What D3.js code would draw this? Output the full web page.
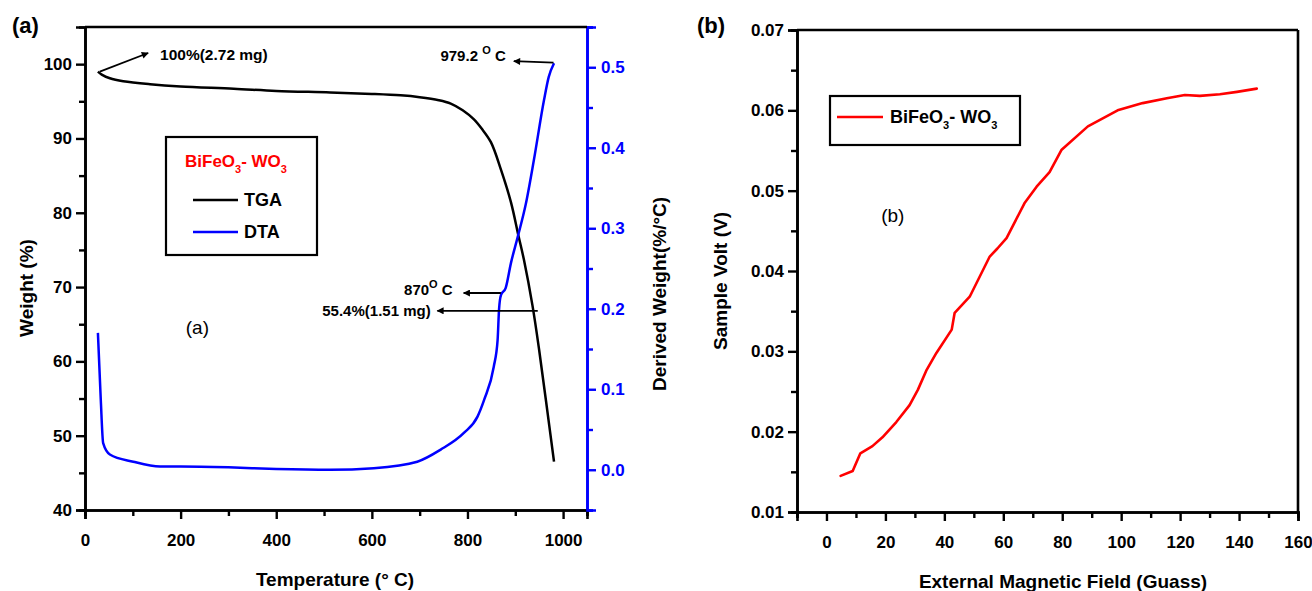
<!DOCTYPE html>
<html>
<head>
<meta charset="utf-8">
<script src="https://cdn.jsdelivr.net/npm/d3@7"></script>
<style>
  body { margin: 0; background: #fff; }
  svg text { font-family: "Liberation Sans", Arial, sans-serif; font-weight: bold; }
</style>
</head>
<body>
<svg id="chart" width="1312" height="591"></svg>
<script>
// panel (a): TGA weight (%) vs temperature
const tgaTemp   = [27, 35, 52, 80, 136, 200, 311, 400, 513, 600, 660, 700, 740, 765, 790, 813, 830, 849, 870, 891, 907, 918, 936, 950, 964, 981];
const tgaWeight = [99.0, 98.6, 98.1, 97.7, 97.3, 97.0, 96.7, 96.4, 96.2, 96.0, 95.8, 95.55, 95.15, 94.7, 93.8, 92.6, 91.3, 89.5, 85.8, 81.4, 76.8, 73.7, 67.5, 61.5, 54.8, 46.5];
// panel (a): DTA derived weight (%/°C)
const dtaTemp  = [27, 33, 38, 52, 101, 157, 200, 300, 400, 513, 604, 695, 744, 793, 821, 835, 855, 863, 866, 870, 880, 891, 905, 922, 939, 960, 970, 981];
const dtaValue = [0.17, 0.087, 0.033, 0.019, 0.010, 0.004, 0.004, 0.003, 0.001, 0.0, 0.002, 0.010, 0.025, 0.046, 0.066, 0.087, 0.128, 0.161, 0.199, 0.217, 0.226, 0.257, 0.289, 0.33, 0.385, 0.459, 0.488, 0.505];
// panel (b): sample volt vs external field
const field = [4.8, 8.9, 11.5, 15.6, 19, 23.7, 28.2, 31, 34, 37.3, 42.5, 43.5, 48.6, 55.4, 58, 61.1, 67.3, 71.3, 75.7, 79.8, 88.7, 98.8, 107.3, 115.5, 121.6, 126.7, 133.5, 139.3, 146];
const volt  = [0.0145, 0.0151, 0.0173, 0.0182, 0.0193, 0.0212, 0.0233, 0.0252, 0.0277, 0.0298, 0.0327, 0.0348, 0.0368, 0.0418, 0.0428, 0.0441, 0.0485, 0.0505, 0.0523, 0.0551, 0.058, 0.060, 0.0609, 0.0615, 0.0619, 0.0618, 0.0620, 0.0623, 0.0627];

const weightTicks = [40, 50, 60, 70, 80, 90, 100];
const tempTicks = [0, 200, 400, 600, 800, 1000];
const dtaTicks = [0, 0.1, 0.2, 0.3, 0.4, 0.5];
const voltTicks = [0.01, 0.02, 0.03, 0.04, 0.05, 0.06, 0.07];
const fieldTicks = [0, 20, 40, 60, 80, 100, 120, 140, 160];

const svg = d3.select('#chart');

// arrow head marker
svg.append('defs').append('marker')
    .attr('id', 'arrow')
    .attr('viewBox', '0 0 10 10')
    .attr('refX', 9).attr('refY', 5)
    .attr('markerWidth', 10).attr('markerHeight', 7)
    .attr('markerUnits', 'userSpaceOnUse')
    .attr('orient', 'auto')
    .append('path').attr('d', 'M0,0 L10,5 L0,10 Z').attr('fill', '#000');

function styleAxis(g, color) {
    g.select('.domain').attr('stroke', color).attr('stroke-width', 2.6);
    g.selectAll('.tick line').attr('stroke', color).attr('stroke-width', 2.4);
    g.selectAll('.tick text').attr('fill', color).style('font-size', '17px');
}

// ---------- panel (a) ----------
const a = { left: 85, top: 27, w: 502, h: 483 };
const ga = svg.append('g').attr('transform', `translate(${a.left},${a.top})`);

const xA = d3.scaleLinear().domain([0, 1050]).range([0, a.w]);
const yA = d3.scaleLinear().domain([40, 105]).range([a.h, 0]);
const yD = d3.scaleLinear().domain([-0.05, 0.55]).range([a.h, 0]);

// minor ticks
ga.append('g').attr('transform', `translate(0,${a.h})`)
    .call(d3.axisBottom(xA).tickValues(d3.range(100, 1050, 200)).tickSize(6).tickFormat(''))
    .call(g => styleAxis(g, '#000'));
ga.append('g')
    .call(d3.axisLeft(yA).tickValues(d3.range(45, 105, 10)).tickSize(6).tickFormat(''))
    .call(g => styleAxis(g, '#000'));
ga.append('g').attr('transform', `translate(${a.w},0)`)
    .call(d3.axisRight(yD).tickValues([-0.05, 0.05, 0.15, 0.25, 0.35, 0.45, 0.55]).tickSize(6).tickFormat(''))
    .call(g => styleAxis(g, '#0000ff'));

// major axes
ga.append('g').attr('transform', `translate(0,${a.h})`)
    .call(d3.axisBottom(xA).tickValues(tempTicks).tickSize(9).tickPadding(15).tickFormat(d3.format('d')))
    .call(g => styleAxis(g, '#000'));
ga.append('g')
    .call(d3.axisLeft(yA).tickValues(weightTicks).tickSize(9).tickPadding(4).tickFormat(d3.format('d')))
    .call(g => styleAxis(g, '#000'));
ga.append('g').attr('transform', `translate(${a.w},0)`)
    .call(d3.axisRight(yD).tickValues(dtaTicks).tickSize(9).tickPadding(5).tickFormat(d3.format('.1f')))
    .call(g => styleAxis(g, '#0000ff'));
ga.append('line').attr('x1', 0).attr('x2', a.w).attr('y1', 0).attr('y2', 0)
    .attr('stroke', '#000').attr('stroke-width', 2.6);

// curves
const tgaLine = d3.line().x(d => xA(d[0])).y(d => yA(d[1])).curve(d3.curveCatmullRom.alpha(0.5));
ga.append('path').datum(d3.zip(tgaTemp, tgaWeight))
    .attr('d', tgaLine).attr('fill', 'none').attr('stroke', '#000').attr('stroke-width', 2.5);
const dtaLine = d3.line().x(d => xA(d[0])).y(d => yD(d[1])).curve(d3.curveMonotoneX);
ga.append('path').datum(d3.zip(dtaTemp, dtaValue))
    .attr('d', dtaLine).attr('fill', 'none').attr('stroke', '#0000ff').attr('stroke-width', 2.5);

// annotations (data coordinates: temp, weight)
const arrowsA = [
    { from: [31, 99.0], to: [132, 101.5] },
    { from: [980, 100.2], to: [897, 100.4] },
    { from: [870, 69.2], to: [792, 69.2] },
    { from: [947, 66.8], to: [737, 66.8] }
];
ga.selectAll('.arrow').data(arrowsA).join('line')
    .attr('x1', d => xA(d.from[0])).attr('y1', d => yA(d.from[1]))
    .attr('x2', d => xA(d.to[0])).attr('y2', d => yA(d.to[1]))
    .attr('stroke', '#000').attr('stroke-width', 1.8).attr('marker-end', 'url(#arrow)');

ga.append('text').attr('x', xA(157)).attr('y', yA(100.6)).style('font-size', '15.5px').text('100%(2.72 mg)');
const t979 = ga.append('text').attr('x', xA(880)).attr('y', yA(100.4)).attr('text-anchor', 'end').style('font-size', '15px');
t979.append('tspan').text('979.2 ');
t979.append('tspan').attr('dy', -7).style('font-size', '11px').text('O');
t979.append('tspan').attr('dy', 7).text(' C');
const t870 = ga.append('text').attr('x', xA(769)).attr('y', yA(69.0)).attr('text-anchor', 'end').style('font-size', '15px');
t870.append('tspan').text('870');
t870.append('tspan').attr('dy', -7).style('font-size', '11px').text('O');
t870.append('tspan').attr('dy', 7).text(' C');
ga.append('text').attr('x', xA(723)).attr('y', yA(66.1)).attr('text-anchor', 'end').style('font-size', '15px').text('55.4%(1.51 mg)');
ga.append('text').attr('x', xA(235)).attr('y', yA(63.7)).attr('text-anchor', 'middle')
    .style('font-size', '19px').style('font-weight', 'normal').text('(a)');

// legend (a)
const la = ga.append('g').attr('transform', 'translate(81,110)');
la.append('rect').attr('width', 151).attr('height', 118).attr('fill', '#fff').attr('stroke', '#000').attr('stroke-width', 2.2);
const ttl = la.append('text').attr('x', 19).attr('y', 30).attr('fill', '#ff0000').style('font-size', '17px');
ttl.append('tspan').text('BiFeO');
ttl.append('tspan').attr('dy', 6).style('font-size', '11px').text('3');
ttl.append('tspan').attr('dy', -6).text('- WO');
ttl.append('tspan').attr('dy', 6).style('font-size', '11px').text('3');
[['TGA', '#000', 63], ['DTA', '#0000ff', 95]].forEach(([name, color, y]) => {
    la.append('line').attr('x1', 27).attr('x2', 72).attr('y1', y).attr('y2', y).attr('stroke', color).attr('stroke-width', 2.5);
    la.append('text').attr('x', 78).attr('y', y + 6).style('font-size', '18px').text(name);
});

// axis titles (a)
svg.append('text').attr('transform', 'translate(33,288) rotate(-90)').attr('text-anchor', 'middle')
    .style('font-size', '19px').text('Weight (%)');
svg.append('text').attr('x', 335).attr('y', 586).attr('text-anchor', 'middle')
    .style('font-size', '19px').text('Temperature (° C)');
svg.append('text').attr('transform', 'translate(666,294) rotate(-90)').attr('text-anchor', 'middle')
    .style('font-size', '19px').text('Derived Weight(%/°C)');
svg.append('text').attr('x', 12).attr('y', 33).style('font-size', '22px').text('(a)');

// ---------- panel (b) ----------
const b = { left: 797, top: 30, w: 501, h: 482 };
const gb = svg.append('g').attr('transform', `translate(${b.left},${b.top})`);
const xB = d3.scaleLinear().domain([-10, 160]).range([0, b.w]);
const yB = d3.scaleLinear().domain([0.01, 0.07]).range([b.h, 0]);

gb.append('g').attr('transform', `translate(0,${b.h})`)
    .call(d3.axisBottom(xB).tickValues(d3.range(-10, 160, 20)).tickSize(6).tickFormat(''))
    .call(g => styleAxis(g, '#000'));
gb.append('g')
    .call(d3.axisLeft(yB).tickValues([0.015, 0.025, 0.035, 0.045, 0.055, 0.065]).tickSize(6).tickFormat(''))
    .call(g => styleAxis(g, '#000'));
gb.append('g').attr('transform', `translate(0,${b.h})`)
    .call(d3.axisBottom(xB).tickValues(fieldTicks).tickSize(9).tickPadding(15).tickFormat(d3.format('d')))
    .call(g => styleAxis(g, '#000'));
gb.append('g')
    .call(d3.axisLeft(yB).tickValues(voltTicks).tickSize(9).tickPadding(4).tickFormat(d3.format('.2f')))
    .call(g => styleAxis(g, '#000'));
gb.append('line').attr('x1', 0).attr('x2', b.w).attr('y1', 0).attr('y2', 0).attr('stroke', '#000').attr('stroke-width', 2.6);
gb.append('line').attr('x1', b.w).attr('x2', b.w).attr('y1', 0).attr('y2', b.h).attr('stroke', '#000').attr('stroke-width', 2.6);

const voltLine = d3.line().x(d => xB(d[0])).y(d => yB(d[1]));
gb.append('path').datum(d3.zip(field, volt))
    .attr('d', voltLine).attr('fill', 'none').attr('stroke', '#ff0000').attr('stroke-width', 2.6)
    .attr('stroke-linejoin', 'round').attr('stroke-linecap', 'round');

// legend (b)
const lb = gb.append('g').attr('transform', 'translate(33,66)');
lb.append('rect').attr('width', 190).attr('height', 49).attr('fill', '#fff').attr('stroke', '#000').attr('stroke-width', 2.2);
lb.append('line').attr('x1', 7).attr('x2', 53).attr('y1', 21).attr('y2', 21).attr('stroke', '#ff0000').attr('stroke-width', 2.6);
const ltx = lb.append('text').attr('x', 60).attr('y', 27).style('font-size', '18px');
ltx.append('tspan').text('BiFeO');
ltx.append('tspan').attr('dy', 6).style('font-size', '11px').text('3');
ltx.append('tspan').attr('dy', -6).text('- WO');
ltx.append('tspan').attr('dy', 6).style('font-size', '11px').text('3');

gb.append('text').attr('x', xB(22.5)).attr('y', yB(0.0461)).attr('text-anchor', 'middle')
    .style('font-size', '19px').style('font-weight', 'normal').text('(b)');

svg.append('text').attr('transform', 'translate(727,281) rotate(-90)').attr('text-anchor', 'middle')
    .style('font-size', '19px').text('Sample Volt (V)');
svg.append('text').attr('x', 1063).attr('y', 588).attr('text-anchor', 'middle')
    .style('font-size', '19px').text('External Magnetic Field (Guass)');
svg.append('text').attr('x', 697).attr('y', 33).style('font-size', '22px').text('(b)');
</script>
</body>
</html>
